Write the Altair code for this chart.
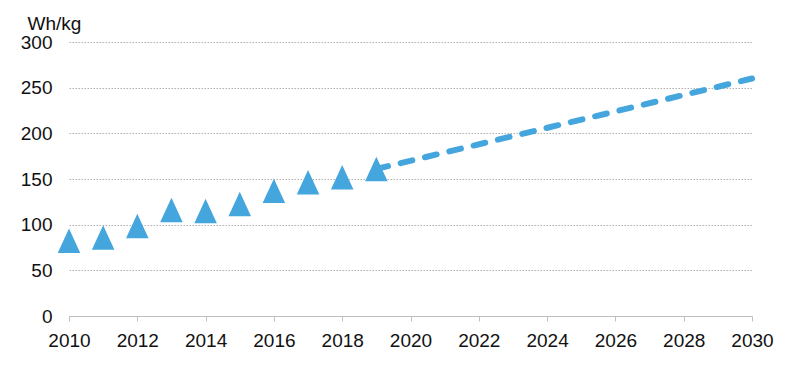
import altair as alt
import pandas as pd

years = [2010, 2011, 2012, 2013, 2014, 2015, 2016, 2017, 2018, 2019]
values = [82.5, 86, 98.5, 116, 115, 122.5, 137, 146.5, 152, 161]
proj_years = [2019, 2030]
proj_values = [161, 260]
x_ticks = list(range(2010, 2031))
y_ticks = [0, 50, 100, 150, 200, 250, 300]

BLUE = "#45A6DD"
FONT = "Liberation Sans"

pts = pd.DataFrame({"year": years, "value": values})
proj = pd.DataFrame({"year": proj_years, "value": proj_values})

xscale = alt.Scale(domain=[2010, 2030], nice=False, zero=False)
yscale = alt.Scale(domain=[0, 300], nice=False)

xaxis = alt.Axis(
    values=x_ticks, format="d", title=None,
    labelExpr="datum.value % 2 == 0 ? datum.label : ''",
    grid=False, domainColor="#bfbfbf", tickColor="#bfbfbf", tickSize=5,
    labelFont=FONT, labelFontSize=19, labelColor="#111111", labelPadding=10,
    labelFlush=False, labelOverlap=False,
)
yaxis = alt.Axis(
    values=y_ticks, title="Wh/kg", titleAngle=0, titleAlign="left",
    titleBaseline="alphabetic", titleX=-42, titleY=-13,
    titleFont=FONT, titleFontSize=19, titleFontWeight="normal", titleColor="#111111",
    domain=False, ticks=False, grid=True, gridColor="#b0b0b0", gridDash=[1.5, 1.5],
    gridWidth=1, labelFont=FONT, labelFontSize=19, labelColor="#111111",
    labelPadding=17,
)

line = alt.Chart(proj).mark_line(
    color=BLUE, strokeWidth=6, strokeDash=[12, 13], strokeCap="round"
).encode(
    x=alt.X("year:Q", scale=xscale, axis=xaxis),
    y=alt.Y("value:Q", scale=yscale, axis=yaxis),
)

tri = alt.Chart(pts).mark_point(
    shape="M-0.92,1L0,-1L0.92,1Z", filled=True, color=BLUE, opacity=1, size=600
).encode(
    x=alt.X("year:Q", scale=xscale),
    y=alt.Y("value:Q", scale=yscale),
)

chart = alt.layer(line, tri).properties(
    width=683, height=274,
    autosize=alt.AutoSizeParams(type="none"),
    padding={"left": 61, "top": 34, "right": 40, "bottom": 40},
).configure(background="white").configure_view(stroke="transparent", strokeWidth=0)

chart.save("out.html", embed_options={"renderer": "svg", "actions": False})
